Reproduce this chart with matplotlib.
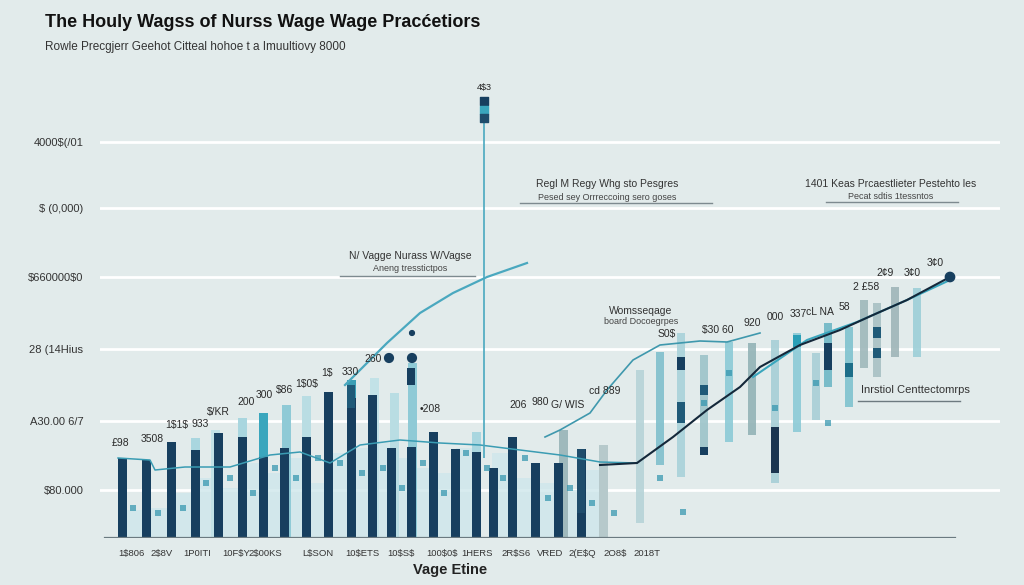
import matplotlib.pyplot as plt

plt.rcParams['font.family'] = ['Liberation Sans', 'DejaVu Sans']
plt.rcParams['text.parse_math'] = False

# ---- data (x = slot position, y = hourly wage units) ----
dark_x = [122, 146, 171, 195, 218, 242, 263, 284, 306, 328, 351, 372, 391, 411,
          433, 455, 476, 493, 512, 535, 558, 581]
dark_h = [8.0, 7.8, 9.6, 8.8, 10.5, 10.1, 8.1, 9.0, 10.1, 14.6, 14.0, 14.3, 9.0, 9.1,
          10.6, 8.9, 8.6, 7.0, 10.1, 7.5, 7.5, 8.9]

light_x = [195, 215, 242, 263, 286, 306, 351, 374, 394, 412, 476, 563, 603]
light_h = [10.0, 10.8, 12.0, 12.5, 13.3, 14.2, 15.8, 16.0, 14.5, 17.5, 10.6, 10.8, 9.3]
light_c = ['#a9d6df', '#c2e2e7', '#a9d6df', '#3aa6bd', '#8fcad6', '#b9dde3', '#3b9fb5',
           '#c2e2e7', '#b9dde3', '#8fcad6', '#a9d6df', '#9fb9bc', '#b6c9cb']

pale_x = [134, 158, 183, 206, 230, 253, 274, 296, 318, 340, 362, 382, 401, 422,
          444, 466, 502, 524, 547, 569, 592]
pale_h = [2.8, 3.0, 4.5, 6.0, 5.0, 7.5, 6.5, 8.0, 5.5, 8.5, 9.0, 9.5, 8.0, 7.0,
          6.5, 9.0, 8.5, 6.0, 5.5, 4.8, 6.8]

float_x = [640, 660, 681, 704, 729, 752, 775, 797, 816, 828, 849, 864, 877, 895, 917]
float_lo = [1.5, 7.3, 6.1, 8.5, 9.6, 10.3, 5.5, 10.6, 11.8, 15.1, 13.1, 17.0, 16.1, 18.1, 18.1]
float_hi = [16.8, 18.6, 20.5, 18.3, 19.6, 19.5, 19.8, 20.5, 18.5, 21.5, 21.1, 23.8, 23.5, 25.1, 25.0]
float_c = ['#b6d3d8', '#7fbfcc', '#a9d2da', '#9cc4c9', '#8ccad6', '#93b3b6', '#a6cfd6',
           '#8ccad6', '#a9cfd6', '#6fb7c6', '#7ec2cf', '#9fb8bb', '#a8c0c3', '#9fb5b8', '#9ccfd8']

seg_x = [681, 681, 704, 704, 775, 828, 877, 877, 849, 797, 411, 351, 581]
seg_lo = [16.8, 11.5, 14.3, 8.3, 6.5, 16.8, 20.0, 18.0, 16.1, 19.1, 15.3, 13.0, 2.5]
seg_hi = [18.1, 13.6, 15.3, 9.1, 11.1, 19.5, 21.1, 19.0, 17.5, 20.3, 17.0, 15.3, 8.9]
seg_c = ['#173f5f', '#1f5a78', '#1f5a78', '#173f5f', '#1b3550', '#173f5f', '#1f5a78',
         '#1f5a78', '#1c6e89', '#2a9fb7', '#173f5f', '#1f5a78', '#1f4d6c']

chip_x = [133, 158, 183, 206, 230, 253, 275, 296, 318, 340, 362, 383, 402, 423, 444,
          466, 487, 503, 525, 548, 570, 592, 614, 660, 683, 704, 729, 775, 816, 828]
chip_y = [3.0, 2.5, 3.0, 5.5, 6.0, 4.5, 7.0, 6.0, 8.0, 7.5, 6.5, 7.0, 5.0, 7.5, 4.5,
          8.5, 7.0, 6.0, 8.0, 4.0, 5.0, 3.5, 2.5, 6.0, 2.6, 13.5, 16.5, 13.0, 15.5, 11.5]

base_x = [118, 150, 155, 185, 230, 270, 300, 330, 360, 400, 440, 480, 520, 560, 600, 637]
base_y = [8.0, 7.8, 6.8, 7.1, 7.1, 8.3, 8.6, 7.5, 9.3, 9.8, 9.5, 9.3, 8.8, 8.3, 7.6, 7.5]
rise_x = [345, 357, 387, 420, 453, 487, 527]
rise_y = [15.3, 16.5, 19.5, 22.5, 24.5, 26.1, 27.5]
mid_x = [545, 560, 590, 607, 633, 660, 700, 727, 760]
mid_y = [10.1, 10.8, 12.5, 14.8, 17.8, 19.3, 19.7, 19.6, 20.5]
dark_line_x = [600, 637, 673, 707, 740, 760, 800, 840, 873, 907, 950]
dark_line_y = [7.3, 7.5, 10.1, 12.8, 15.1, 17.1, 19.3, 20.8, 22.3, 23.8, 26.1]
upper_x = [753, 807, 857, 907, 950]
upper_y = [16.1, 19.8, 21.6, 23.8, 25.8]

dot_x = [950, 389, 412, 412]
dot_y = [26.1, 18.0, 18.0, 20.5]

ytick_pos = [4.8, 11.7, 18.9, 26.1, 33.0, 39.6]
ytick_lab = ['$80.000', 'A30.00 6/7', '28 (14Hius', '$660000$0', '$ (0,000)', '4000$(/01']

xtick_pos = [131, 162, 197, 236, 265, 318, 362, 401, 442, 477, 516, 550, 582, 615, 647]
xtick_lab = ['1$806', '2$8V', '1P0ITI', '10F$Y', '2$00KS', 'L$SON', '10$ETS', '10$S$',
             '100$0$', '1HERS', '2R$S6', 'VRED', '2(E$Q', '2O8$', '2018T']

lab_x = [120, 152, 177, 200, 218, 246, 264, 285, 307, 327, 350, 373, 430, 518, 540, 568,
         667, 605, 718, 752, 775, 798, 820, 844, 866, 885, 912, 935]
lab_y = [9.0, 9.4, 10.8, 10.9, 12.1, 13.1, 13.8, 14.3, 14.9, 16.0, 16.1, 17.4, 12.4, 12.8,
         13.1, 12.8, 19.9, 14.2, 20.3, 21.0, 21.6, 21.9, 22.1, 22.6, 24.6, 26.0, 26.0, 27.0]
lab_t = ['£98', '3508', '1$1$', '933', '$/KR', '200', '300', '$86', '1$0$', '1$', '330',
         '260', '•208', '206', '980', 'G/ WIS', 'S0$', 'cd 889', '$30 60', '920', '000',
         '337', 'cL NA', '58', '2 £58', '2¢9', '3¢0', '3¢0']

# ---- figure ----
fig = plt.figure(figsize=(10.24, 5.85), dpi=100, facecolor='#e2ebeb')
ax = fig.add_axes([100 / 1024, 47 / 585, 900 / 1024, 458 / 585])
ax.set_facecolor('none')
ax.set_xlim(100, 1000)
ax.set_ylim(0, 45.8)

for y in ytick_pos:
    ax.axhline(y, color='white', lw=2, zorder=0)

ax.bar(pale_x, pale_h, width=20, color='#cfe7eb', alpha=0.8, zorder=1)
ax.bar(light_x, light_h, width=9, color=light_c, zorder=2)
ax.bar(dark_x, dark_h, width=9, color='#173f5f', zorder=3)
ax.bar(float_x, [h - l for l, h in zip(float_lo, float_hi)], bottom=float_lo,
       width=8, color=float_c, alpha=0.9, zorder=2)
ax.bar(seg_x, [h - l for l, h in zip(seg_lo, seg_hi)], bottom=seg_lo,
       width=8, color=seg_c, zorder=4)
ax.scatter(chip_x, chip_y, marker='s', s=22, color='#2f93ad', alpha=0.7, zorder=4, lw=0)

ax.plot(base_x, base_y, color='#3a9cb3', lw=1.1, zorder=5)
ax.plot(rise_x, rise_y, color='#4aa8bf', lw=1.6, zorder=5)
ax.plot(mid_x, mid_y, color='#3f98ad', lw=1.2, zorder=5)
ax.plot(upper_x, upper_y, color='#3aa6bd', lw=1.5, zorder=5)
ax.plot(dark_line_x, dark_line_y, color='#14283a', lw=1.5, zorder=6)
ax.scatter(dot_x, dot_y, s=[45, 40, 40, 12], color='#173f5f', zorder=7)

# vertical marker line
ax.vlines(484, 8.0, 42.0, color='#4aa8bf', lw=1.2, zorder=5)
ax.scatter([484, 484, 484], [43.7, 42.8, 42.0], marker='s', s=[40, 30, 30],
           color=['#173f5f', '#3aa6bd', '#1f4d6c'], zorder=6)
ax.text(484, 44.6, '4$3', ha='center', va='bottom', fontsize=6.5, color='#222')

for x, y, t in zip(lab_x, lab_y, lab_t):
    ax.text(x, y, t, ha='center', va='bottom', fontsize=7.5, color='#2a2a2a', zorder=8)

# annotations with underline
notes = [(410, 28.2, 'N/ Vagge Nurass W/Vagse', 26.9, 'Aneng tresstictpos', 340, 475, 26.2),
         (607, 35.4, 'Regl M Regy Whg sto Pesgres', 34.0, 'Pesed sey Orrreccoing sero goses', 520, 712, 33.5),
         (891, 35.4, '1401 Keas Prcaestlieter Pestehto les', 34.1, 'Pecat sdtis 1tessntos', 826, 958, 33.6),
         (641, 22.7, 'Womsseqage', 21.6, 'board Docoegrpes', 0, 0, 0)]
for x, y1, t1, y2, t2, u0, u1, uy in notes:
    ax.text(x, y1, t1, ha='center', va='center', fontsize=7.5, color='#333')
    ax.text(x, y2, t2, ha='center', va='center', fontsize=6.5, color='#444')
    if u1:
        ax.plot([u0, u1], [uy, uy], color='#7d8a8f', lw=1)
ax.text(915, 14.8, 'Inrstiol Centtectomrps', ha='center', va='center', fontsize=8, color='#333')
ax.plot([858, 960], [13.7, 13.7], color='#6d7a80', lw=1)

ax.axhline(0, xmin=5 / 900, xmax=855 / 900, color='#6b7a80', lw=1.6, zorder=6)

ax.set_yticks(ytick_pos, ytick_lab, fontsize=8, color='#333')
ax.set_xticks(xtick_pos, xtick_lab, fontsize=6.8, color='#333')
for t in ax.get_xticklabels():
    t.set_fontfamily(['Liberation Sans Narrow', 'Liberation Sans', 'DejaVu Sans'])
ax.tick_params(length=0)
ax.tick_params(axis='y', pad=12)
ax.tick_params(axis='x', pad=8)
for s in ax.spines.values():
    s.set_visible(False)

fig.text(450 / 1024, 1 - 570 / 585, 'Vage Etine', ha='center', va='center',
         fontsize=10.5, weight='bold', color='#222')
fig.text(45 / 1024, 1 - 27 / 585, 'The Houly Wagss of Nurss Wage Wage Pracćetiors',
         fontsize=13, weight='bold', color='#111')
fig.text(45 / 1024, 1 - 50 / 585, 'Rowle Precgjerr Geehot Citteal hohoe t a Imuultiovy 8000',
         fontsize=8.5, color='#333')

fig.savefig('out.png', dpi=100, facecolor=fig.get_facecolor())
